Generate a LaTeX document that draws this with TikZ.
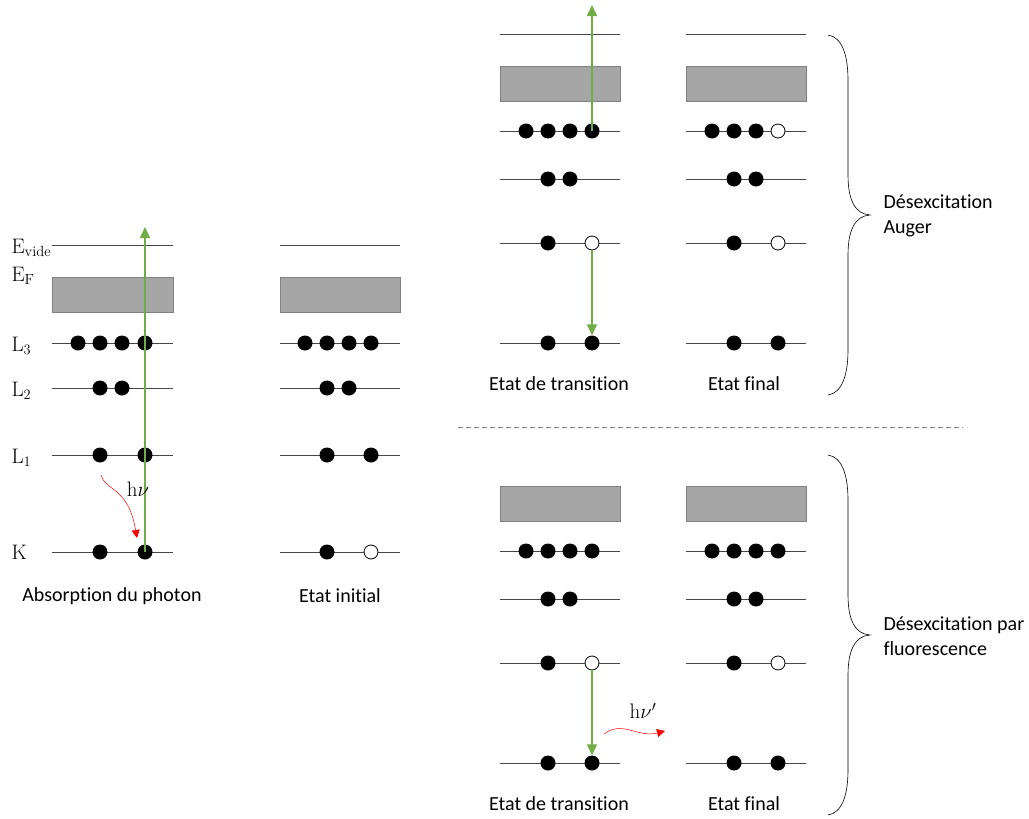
\documentclass[tikz,border=0pt]{standalone}
\usepackage{fontspec}
\setsansfont{Carlito}[Ligatures=NoCommon]
\usetikzlibrary{arrows.meta}
\definecolor{vert}{RGB}{112,173,71}
\definecolor{gris}{RGB}{166,166,166}
\definecolor{trait}{RGB}{70,70,70}
\begin{document}
\begin{tikzpicture}[x=1pt,y=-1pt,
    niveau/.style={trait,line width=0.9pt},
    bande/.style={draw=gray,fill=gris,line width=1pt},
    electron/.style={circle,fill=black,inner sep=0pt,minimum size=15pt},
    trou/.style={circle,draw=black,fill=white,line width=0.8pt,inner sep=0pt,minimum size=14pt},
    excit/.style={vert,line width=1.6pt,-{Triangle[length=11pt,width=10pt]}},
    photon/.style={red,line width=0.5pt,-{Triangle[length=8pt,width=8pt]}},
    etiq/.style={font=\sffamily\fontsize{20}{25}\selectfont},
    niv/.style={anchor=west,font=\fontsize{21}{25}\selectfont}]
    \useasboundingbox (0,0) rectangle (1029,819);
    %\draw[step=50] (0,0) grid (1029,819);

    % Absorption du photon
    \node[niv] (nVide) at (8,248) {$\mathrm{E}_{\mathrm{vide}}$};
    \node[niv] (nF) at (8,276) {$\mathrm{E}_{\mathrm{F}}$};
    \node[niv] (nL3) at (8,346) {$\mathrm{L}_3$};
    \node[niv] (nL2) at (8,391) {$\mathrm{L}_2$};
    \node[niv] (nL1) at (8,458) {$\mathrm{L}_1$};
    \node[niv] (nK) at (8,552) {$\mathrm{K}$};
    \draw[niveau] (52,245) -- (173,245);
    \draw[bande] (52,277) rectangle (173,312);
    \draw[niveau] (52,343) -- (173,343);
    \draw[niveau] (52,388) -- (173,388);
    \draw[niveau] (52,455) -- (173,455);
    \draw[niveau] (52,552) -- (173,552);
    \node[electron] (a31) at (78,343) {}; \node[electron] (a32) at (100,343) {};
    \node[electron] (a33) at (122,343) {}; \node[electron] (a34) at (145,343) {};
    \node[electron] (a21) at (100,388) {}; \node[electron] (a22) at (122,388) {};
    \node[electron] (a11) at (100,455) {}; \node[electron] (a12) at (145,455) {};
    \node[electron] (aK1) at (100,552) {}; \node[electron] (aK2) at (145,552) {};
    \coordinate (aHaut) at (145,227);
    \draw[excit] (aK2.center) -- (aHaut);
    \node[font=\fontsize{21}{25}\selectfont] (hv) at (138,489) {$\mathrm{h}\nu$};
    \coordinate (hvDep) at (101,475);
    \coordinate (hvArr) at (137,538);
    \draw[photon] (hvDep) .. controls (106,492) and (128,486) .. (hvArr);
    \node[etiq] (tAbs) at (112,596) {Absorption du photon};

    % Etat initial
    \draw[niveau] (280,245) -- (400,245);
    \draw[bande] (280,277) rectangle (400,312);
    \draw[niveau] (280,343) -- (400,343);
    \draw[niveau] (280,388) -- (400,388);
    \draw[niveau] (280,455) -- (400,455);
    \draw[niveau] (280,552) -- (400,552);
    \node[electron] (i31) at (305,343) {}; \node[electron] (i32) at (327,343) {};
    \node[electron] (i33) at (349,343) {}; \node[electron] (i34) at (371,343) {};
    \node[electron] (i21) at (327,388) {}; \node[electron] (i22) at (349,388) {};
    \node[electron] (i11) at (327,455) {}; \node[electron] (i12) at (371,455) {};
    \node[electron] (iK1) at (327,552) {}; \node[trou] (iK2) at (371,552) {};
    \node[etiq] (tIni) at (340,596) {Etat initial};

    % Auger : etat de transition
    \draw[niveau] (500,34) -- (620,34);
    \draw[bande] (500,66) rectangle (620,101);
    \draw[niveau] (500,131) -- (620,131);
    \draw[niveau] (500,179) -- (620,179);
    \draw[niveau] (500,243) -- (620,243);
    \draw[niveau] (500,343) -- (620,343);
    \node[electron] (u31) at (526,131) {}; \node[electron] (u32) at (548,131) {};
    \node[electron] (u33) at (570,131) {}; \node[electron] (u34) at (592,131) {};
    \node[electron] (u21) at (548,179) {}; \node[electron] (u22) at (570,179) {};
    \node[electron] (u11) at (548,243) {}; \node[trou] (u12) at (592,243) {};
    \node[electron] (uK1) at (548,343) {}; \node[electron] (uK2) at (592,343) {};
    \coordinate (uHaut) at (592,5);
    \draw[excit] (u34.center) -- (uHaut);
    \draw[excit] (u12.south) -- (uK2.north);
    \node[etiq] (tTrA) at (559,384) {Etat de transition};

    % Auger : etat final
    \draw[niveau] (686,34) -- (806,34);
    \draw[bande] (686,66) rectangle (806,101);
    \draw[niveau] (686,131) -- (806,131);
    \draw[niveau] (686,179) -- (806,179);
    \draw[niveau] (686,243) -- (806,243);
    \draw[niveau] (686,343) -- (806,343);
    \node[electron] (v31) at (712,131) {}; \node[electron] (v32) at (734,131) {};
    \node[electron] (v33) at (756,131) {}; \node[trou] (v34) at (778,131) {};
    \node[electron] (v21) at (734,179) {}; \node[electron] (v22) at (756,179) {};
    \node[electron] (v11) at (734,243) {}; \node[trou] (v12) at (778,243) {};
    \node[electron] (vK1) at (734,343) {}; \node[electron] (vK2) at (778,343) {};
    \node[etiq] (tFinA) at (744,384) {Etat final};

    % accolade Auger
    \draw[black,line width=0.6pt] (828,35) .. controls (842,37) and (848,55) .. (848,80) -- (848,175)
        .. controls (848,200) and (855,214) .. (870,215)
        .. controls (855,216) and (848,230) .. (848,255) -- (848,350)
        .. controls (848,375) and (842,393) .. (828,395);
    \node[etiq,anchor=west,align=left] (tAuger) at (880,216) {Désexcitation\\Auger};

    \draw[gray,dash pattern=on 5pt off 3pt,line width=0.7pt] (458,427) -- (963,427);

    % Fluorescence : etat de transition
    \draw[bande] (500,486) rectangle (620,521);
    \draw[niveau] (500,551) -- (620,551);
    \draw[niveau] (500,599) -- (620,599);
    \draw[niveau] (500,663) -- (620,663);
    \draw[niveau] (500,763) -- (620,763);
    \node[electron] (f31) at (526,551) {}; \node[electron] (f32) at (548,551) {};
    \node[electron] (f33) at (570,551) {}; \node[electron] (f34) at (592,551) {};
    \node[electron] (f21) at (548,599) {}; \node[electron] (f22) at (570,599) {};
    \node[electron] (f11) at (548,663) {}; \node[trou] (f12) at (592,663) {};
    \node[electron] (fK1) at (548,763) {}; \node[electron] (fK2) at (592,763) {};
    \draw[excit] (f12.south) -- (fK2.north);
    \node[font=\fontsize{21}{25}\selectfont] (hvp) at (643,711) {$\mathrm{h}\nu'$};
    \coordinate (hvpDep) at (604,734);
    \coordinate (hvpArr) at (665,731);
    \draw[photon] (hvpDep) .. controls (622,720) and (638,738) .. (hvpArr);
    \node[etiq] (tTrF) at (559,804) {Etat de transition};

    % Fluorescence : etat final
    \draw[bande] (686,486) rectangle (806,521);
    \draw[niveau] (686,551) -- (806,551);
    \draw[niveau] (686,599) -- (806,599);
    \draw[niveau] (686,663) -- (806,663);
    \draw[niveau] (686,763) -- (806,763);
    \node[electron] (g31) at (712,551) {}; \node[electron] (g32) at (734,551) {};
    \node[electron] (g33) at (756,551) {}; \node[electron] (g34) at (778,551) {};
    \node[electron] (g21) at (734,599) {}; \node[electron] (g22) at (756,599) {};
    \node[electron] (g11) at (734,663) {}; \node[trou] (g12) at (778,663) {};
    \node[electron] (gK1) at (734,763) {}; \node[electron] (gK2) at (778,763) {};
    \node[etiq] (tFinF) at (744,804) {Etat final};

    % accolade fluorescence
    \draw[black,line width=0.6pt] (828,455) .. controls (842,457) and (848,475) .. (848,500) -- (848,595)
        .. controls (848,620) and (855,634) .. (870,635)
        .. controls (855,636) and (848,650) .. (848,675) -- (848,770)
        .. controls (848,795) and (842,813) .. (828,815);
    \node[etiq,anchor=west,align=left] (tFluo) at (880,636) {Désexcitation par\\fluorescence};
\end{tikzpicture}
\end{document}
